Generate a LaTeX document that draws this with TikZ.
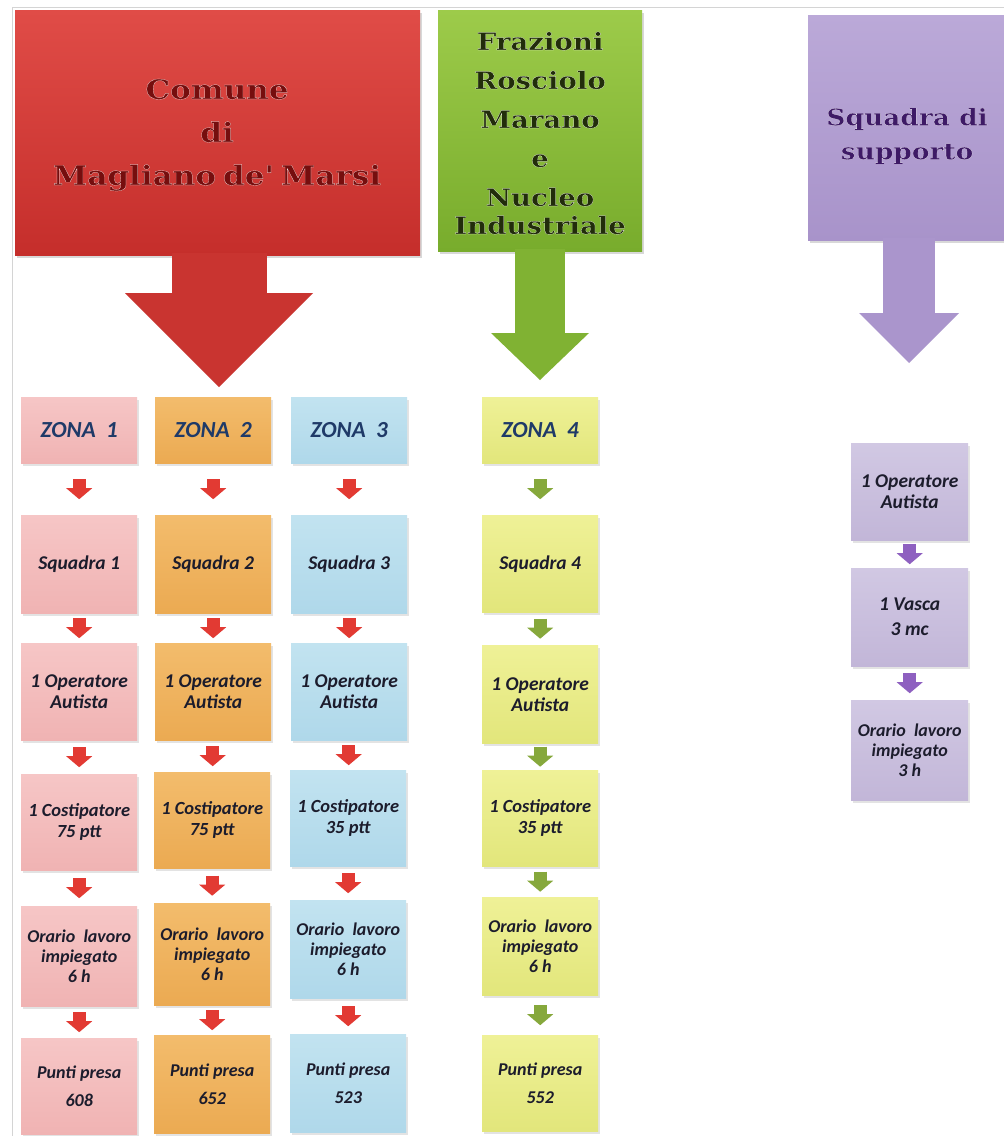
\documentclass[tikz,border=0pt]{standalone}
\usepackage{fontspec}
\setmainfont{Carlito}
\newfontfamily\headfont{DejaVu Serif Bold}[FakeStretch=1.15]
\newcommand\whiteoutline{\special{pdf:code 2 Tr 0.17 w 1 j 1 1 1 RG}}
\usetikzlibrary{arrows.meta,calc,shadows}
\definecolor{redTop}{HTML}{E04C47}
\definecolor{redBot}{HTML}{C52E2B}
\definecolor{redA}{HTML}{C93430}
\definecolor{greenTop}{HTML}{9DCB4A}
\definecolor{greenBot}{HTML}{78AC2C}
\definecolor{greenA}{HTML}{80B233}
\definecolor{purpTop}{HTML}{BBA9D8}
\definecolor{purpBot}{HTML}{A893CA}
\definecolor{purpA}{HTML}{AA95CC}
\definecolor{pinkTop}{HTML}{F6C6C6}
\definecolor{pinkBot}{HTML}{F0B3B3}
\definecolor{oraTop}{HTML}{F3BC6C}
\definecolor{oraBot}{HTML}{EBAA52}
\definecolor{bluTop}{HTML}{C2E3F0}
\definecolor{bluBot}{HTML}{AFD8EA}
\definecolor{yelTop}{HTML}{EFF197}
\definecolor{yelBot}{HTML}{E2E67B}
\definecolor{lilTop}{HTML}{D1C8E3}
\definecolor{lilBot}{HTML}{C2B6D8}
\definecolor{sRed}{HTML}{E23A33}
\definecolor{sGreen}{HTML}{86A83C}
\definecolor{sPurp}{HTML}{8E60C0}
\definecolor{txt}{HTML}{1C1C2C}
\definecolor{zonaT}{HTML}{1F3A68}
\definecolor{redT}{HTML}{760E0E}
\definecolor{greenT}{HTML}{222D0B}
\definecolor{purpT}{HTML}{3E1A66}
\definecolor{frame}{HTML}{D4D4D4}
\begin{document}
\begin{tikzpicture}[x=1pt,y=-1pt,
  hbox/.style={rectangle, anchor=north west, inner sep=0pt, draw=none,
    drop shadow={opacity=0.3, shadow xshift=2pt, shadow yshift=-3pt}},
  htext/.style={align=center, inner sep=0pt},
  cell/.style={rectangle, anchor=north west, inner sep=0pt, draw=none,
    minimum width=116pt, align=center, text=txt,
    font=\bfseries\itshape\fontsize{19.5}{21}\selectfont,
    drop shadow={opacity=0.22, shadow xshift=2pt, shadow yshift=-3pt}},
  zona/.style={cell, text=zonaT, font=\bfseries\itshape\fontsize{23}{26}\selectfont},
  cost/.style={font=\bfseries\itshape\fontsize{18.5}{21}\selectfont},
  small/.style={font=\bfseries\itshape\fontsize{18}{20}\selectfont},
  pinkc/.style={top color=pinkTop, bottom color=pinkBot},
  orac/.style={top color=oraTop, bottom color=oraBot},
  bluc/.style={top color=bluTop, bottom color=bluBot},
  yelc/.style={top color=yelTop, bottom color=yelBot},
  lilc/.style={top color=lilTop, bottom color=lilBot},
  bigarr/.style n args={4}{draw=#1, line width=#2,
    -{Triangle[width=#3, length=#4, line width=0pt]}},
  sarr/.style={draw=#1, line width=13pt,
    -{Triangle[width=26pt, length=11pt, line width=0pt]}}
]
\useasboundingbox (0,0) rectangle (1004,1136);
\fill[white] (0,0) rectangle (1004,1136);
% frame lines
\draw[frame, line width=1pt] (12,1136) -- (12,7.5) -- (1004,7.5);

% ---------- header boxes ----------
\node[hbox, top color=redTop, bottom color=redBot, minimum width=405pt, minimum height=245pt] (red) at (15,10) {};
\node[hbox, top color=greenTop, bottom color=greenBot, minimum width=204pt, minimum height=241pt] (green) at (438,10) {};
\node[hbox, top color=purpTop, bottom color=purpBot, minimum width=196pt, minimum height=225pt] (purp) at (808,15) {};

% big arrows
\coordinate (redtip) at (219,387);
\coordinate (greentip) at (540,380);
\coordinate (purptip) at (909,363);
\draw[bigarr={redA}{95pt}{188pt}{94pt}] ($(redtip |- red.south)+(0,-2)$) -- (redtip);
\draw[bigarr={greenA}{50pt}{98pt}{47pt}] ($(greentip |- green.south)+(0,-2)$) -- (greentip);
\draw[bigarr={purpA}{52pt}{100pt}{50pt}] ($(purptip |- purp.south)+(0,-2)$) -- (purptip);

% header texts
\node[htext, text=redT, font=\headfont\fontsize{27}{43}\selectfont] (redtxt) at (217,135)
  {\whiteoutline Comune\\di\\Magliano\hspace{7pt}de'\hspace{7pt}Marsi};
\node[htext, text=greenT, font=\headfont\fontsize{24}{39}\selectfont] (greentxt) at (540,133)
  {\whiteoutline Frazioni\\Rosciolo\\Marano\\e\\Nucleo\\[-11pt]Industriale};
\node[htext, text=purpT, font=\headfont\fontsize{23}{34}\selectfont] (purptxt) at (907,136)
  {\whiteoutline Squadra di\\supporto};

% ---------- column 1 ----------
\node[zona, pinkc, minimum height=66pt] (z1) at (21,397) {ZONA\ \ 1};
\node[cell, pinkc, minimum height=98pt] (s1) at (21,515) {Squadra 1};
\node[cell, pinkc, minimum height=97pt] (o1) at (21,643) {1 Operatore\\Autista};
\node[cell, cost, pinkc, minimum height=96pt] (c1) at (21,774) {1 Costipatore\\75 ptt};
\node[cell, small, pinkc, minimum height=100pt] (h1) at (21,906) {Orario\ \ lavoro\\impiegato\\6 h};
\node[cell, small, pinkc, minimum height=96pt] (p1) at (21,1038) {Punti presa\\[8pt]608};
% ---------- column 2 ----------
\node[zona, orac, minimum height=66pt] (z2) at (155,397) {ZONA\ \ 2};
\node[cell, orac, minimum height=98pt] (s2) at (155,515) {Squadra 2};
\node[cell, orac, minimum height=97pt] (o2) at (155,643) {1 Operatore\\Autista};
\node[cell, cost, orac, minimum height=96pt] (c2) at (154,772) {1 Costipatore\\75 ptt};
\node[cell, small, orac, minimum height=102pt] (h2) at (154,903) {Orario\ \ lavoro\\impiegato\\6 h};
\node[cell, small, orac, minimum height=98pt] (p2) at (154,1035) {Punti presa\\[8pt]652};
% ---------- column 3 ----------
\node[zona, bluc, minimum height=66pt] (z3) at (291,397) {ZONA\ \ 3};
\node[cell, bluc, minimum height=98pt] (s3) at (291,515) {Squadra 3};
\node[cell, bluc, minimum height=97pt] (o3) at (291,643) {1 Operatore\\Autista};
\node[cell, cost, bluc, minimum height=96pt] (c3) at (290,770) {1 Costipatore\\35 ptt};
\node[cell, small, bluc, minimum height=98pt] (h3) at (290,900) {Orario\ \ lavoro\\impiegato\\6 h};
\node[cell, small, bluc, minimum height=98pt] (p3) at (290,1034) {Punti presa\\[8pt]523};
% ---------- column 4 ----------
\node[zona, yelc, minimum height=66pt] (z4) at (482,397) {ZONA\ \ 4};
\node[cell, yelc, minimum height=97pt] (s4) at (482,515) {Squadra 4};
\node[cell, yelc, minimum height=98pt] (o4) at (482,645) {1 Operatore\\Autista};
\node[cell, cost, yelc, minimum height=96pt] (c4) at (482,770) {1 Costipatore\\35 ptt};
\node[cell, small, yelc, minimum height=98pt] (h4) at (482,897) {Orario\ \ lavoro\\impiegato\\6 h};
\node[cell, small, yelc, minimum height=96pt] (p4) at (482,1035) {Punti presa\\[8pt]552};
% ---------- support column ----------
\node[cell, lilc, minimum width=117pt, minimum height=97pt] (o5) at (851,443) {1 Operatore\\Autista};
\node[cell, lilc, minimum width=117pt, minimum height=98pt] (v5) at (851,568) {1 Vasca\\[4pt]3 mc};
\node[cell, small, lilc, minimum width=117pt, minimum height=100pt] (h5) at (851,700) {Orario\ \ lavoro\\impiegato\\3 h};

% ---------- small arrows ----------
\foreach \a/\b/\c in {z1/s1/sRed, s1/o1/sRed, o1/c1/sRed, c1/h1/sRed, h1/p1/sRed,
                      z2/s2/sRed, s2/o2/sRed, o2/c2/sRed, c2/h2/sRed, h2/p2/sRed,
                      z3/s3/sRed, s3/o3/sRed, o3/c3/sRed, c3/h3/sRed, h3/p3/sRed,
                      z4/s4/sGreen, s4/o4/sGreen, o4/c4/sGreen, c4/h4/sGreen, h4/p4/sGreen,
                      o5/v5/sPurp, v5/h5/sPurp}
  \draw[sarr=\c] ($(\a.south)!0.5!(\b.north)+(0,-10)$) -- ($(\a.south)!0.5!(\b.north)+(0,10)$);
\end{tikzpicture}
\end{document}
